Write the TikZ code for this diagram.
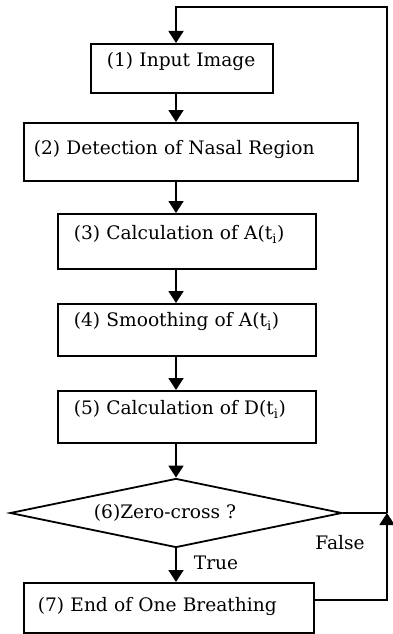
\documentclass[tikz,border=0pt]{standalone}
\usepackage{fontspec}
\setmainfont{DejaVu Serif}
\usetikzlibrary{arrows.meta,shapes.geometric}
\begin{document}
\begin{tikzpicture}[x=1pt,y=-1pt,
  txt/.style={font=\fontsize{18.6}{22}\selectfont},
  box/.style={draw, line width=1.8pt, anchor=north west, align=left, inner ysep=0pt, txt},
  conn/.style={line width=1.8pt},
  arr/.style={conn, -{Triangle[length=12pt,width=15pt]}},
  lbl/.style={txt, inner sep=0pt}]
\useasboundingbox (0,0) rectangle (392,634);
\coordinate (ax) at (176,0);
\node[box, inner xsep=16pt, text width=150pt, text height=23pt, text depth=26pt] (b1) at (90,43) {(1) Input Image};
\node[box, inner xsep=10pt, text width=314pt, text height=32pt, text depth=26pt] (b2) at (23,122) {(2) Detection of Nasal Region};
\node[box, inner xsep=16pt, text width=226pt, text height=26pt, text depth=29pt] (b3) at (57,213) {(3) Calculation of A(t\textsubscript{i})};
\node[box, inner xsep=16pt, text width=226pt, text height=23pt, text depth=29pt] (b4) at (57,303) {(4) Smoothing of A(t\textsubscript{i})};
\node[box, inner xsep=16pt, text width=226pt, text height=24pt, text depth=28pt] (b5) at (57,390) {(5) Calculation of D(t\textsubscript{i})};
\node[diamond, draw, line width=1.8pt, aspect=4.8, minimum width=332pt, minimum height=69pt, inner sep=0pt, txt] (d) at (176,513) {(6)Zero-cross ?\hspace*{22pt}};
\node[box, inner xsep=14pt, text width=262pt, text height=29pt, text depth=21pt] (b7) at (23,582) {(7) End of One Breathing};
\node[lbl] (t) at (216,563) {True};
\node[lbl] (f) at (340,543) {False};
\coordinate (rj) at (387,513);
\coordinate (r7) at (387,600);
\coordinate (tr) at (387,7);
\coordinate (tl) at (176,7);
\draw[arr] (b1.south -| ax) -- (b2.north -| ax);
\draw[arr] (b2.south -| ax) -- (b3.north -| ax);
\draw[arr] (b3.south -| ax) -- (b4.north -| ax);
\draw[arr] (b4.south -| ax) -- (b5.north -| ax);
\draw[arr] (b5.south -| ax) -- (d.north);
\draw[arr] (d.south) -- (b7.north -| d.south);
\draw[conn] (d.east) -- (rj);
\draw[arr] (b7.east |- r7) -- (r7) -- (rj);
\draw[arr] (rj) -- (tr) -- (tl) -- (b1.north -| tl);
\end{tikzpicture}
\end{document}
